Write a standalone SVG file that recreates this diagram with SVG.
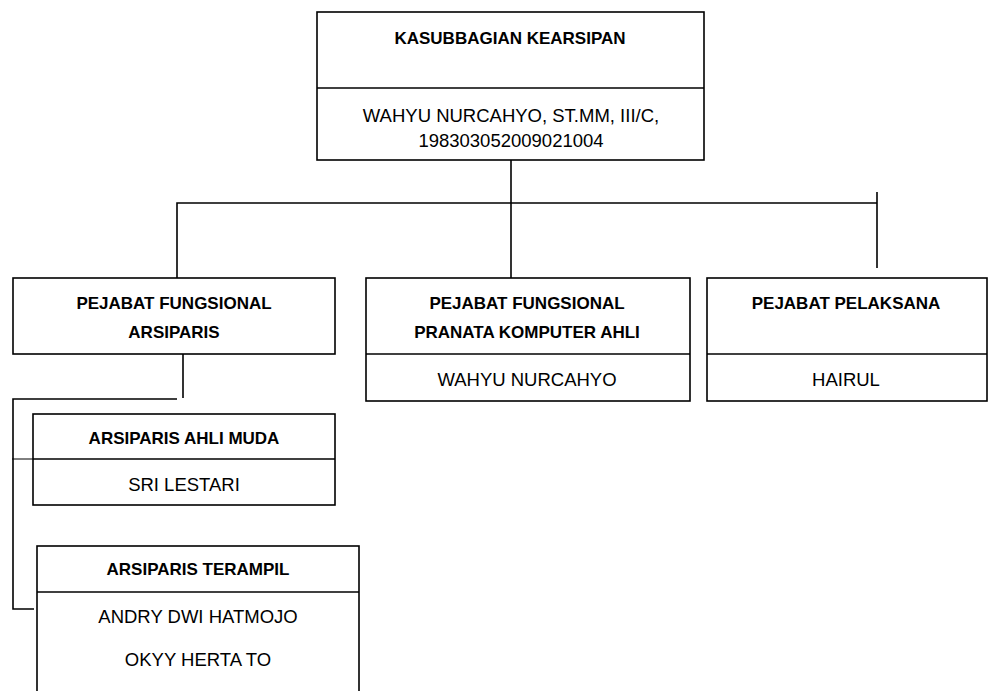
<svg xmlns="http://www.w3.org/2000/svg" width="988" height="691" viewBox="0 0 988 691">
<style>
.box{fill:#fff;stroke:#000;stroke-width:1.6}
.ln{fill:none;stroke:#000;stroke-width:1.6}
.thin{fill:none;stroke:#000;stroke-width:1}
text{font-family:"Liberation Sans",Arial,sans-serif;font-size:18.5px;fill:#000;text-anchor:middle}
.b{font-weight:bold;font-size:17px}
</style>
<rect width="988" height="691" fill="#fff"/>
<g id="connectors">
<path class="ln" d="M511,160 V278"/>
<path class="ln" d="M177,278 V203 H877"/>
<path class="ln" d="M877,192 V268"/>
<path class="ln" d="M183,354 V398"/>
<path class="ln" d="M177,399 H13 V609 H34"/>
<path class="thin" d="M12,459 H49"/>
</g>
<g id="kasubbagian">
<rect class="box" x="317" y="12" width="387" height="148"/>
<line class="ln" x1="317" y1="88" x2="704" y2="88"/>
<text class="b" x="510" y="44">KASUBBAGIAN KEARSIPAN</text>
<text x="511" y="122">WAHYU NURCAHYO, ST.MM, III/C,</text>
<text x="511" y="147">198303052009021004</text>
</g>
<g id="fungsional-arsiparis">
<rect class="box" x="13" y="278" width="322" height="76"/>
<text class="b" x="174" y="309">PEJABAT FUNGSIONAL</text>
<text class="b" x="174" y="338">ARSIPARIS</text>
</g>
<g id="pranata">
<rect class="box" x="366" y="278" width="324" height="123"/>
<line class="ln" x1="366" y1="354" x2="690" y2="354"/>
<text class="b" x="527" y="309">PEJABAT FUNGSIONAL</text>
<text class="b" x="527" y="338">PRANATA KOMPUTER AHLI</text>
<text x="527" y="386">WAHYU NURCAHYO</text>
</g>
<g id="pelaksana">
<rect class="box" x="707" y="278" width="280" height="123"/>
<line class="ln" x1="707" y1="354" x2="987" y2="354"/>
<text class="b" x="846" y="309">PEJABAT PELAKSANA</text>
<text x="846" y="386">HAIRUL</text>
</g>
<g id="ahli-muda">
<rect class="box" x="33" y="414" width="302" height="91"/>
<line class="ln" x1="33" y1="459" x2="335" y2="459"/>
<text class="b" x="184" y="444">ARSIPARIS AHLI MUDA</text>
<text x="184" y="491">SRI LESTARI</text>
</g>
<g id="terampil">
<rect class="box" x="37" y="546" width="322" height="160"/>
<line class="ln" x1="37" y1="592" x2="359" y2="592"/>
<text class="b" x="198" y="575">ARSIPARIS TERAMPIL</text>
<text x="198" y="623">ANDRY DWI HATMOJO</text>
<text x="198" y="666">OKYY HERTA TO</text>
</g>
</svg>
